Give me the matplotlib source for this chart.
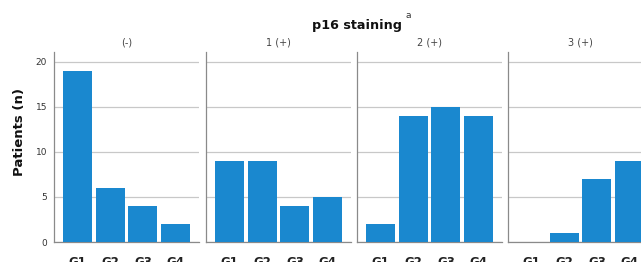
import matplotlib.pyplot as plt
import numpy as np

# data
grades = ['G1', 'G2', 'G3', 'G4']
panels = ['(-)', '1 (+)', '2 (+)', '3 (+)']
neg = [19, 6, 4, 2]
plus1 = [9, 9, 4, 5]
plus2 = [2, 14, 15, 14]
plus3 = [0, 1, 7, 9]
counts = [neg, plus1, plus2, plus3]
yticks = [0, 5, 10, 15, 20]

W, H = 641, 262
fig = plt.figure(figsize=(W/100, H/100), dpi=100)

lefts = [54, 206, 357, 508]
pw = 145
x = np.arange(len(grades))
for i in range(4):
    ax = fig.add_axes([lefts[i]/W, 20/H, pw/W, 190/H])
    ax.bar(x, counts[i], width=0.88, color='#1a88cf', zorder=3)
    ax.set_xlim(-0.715, 3.715)
    ax.set_ylim(0, 21.1)
    ax.set_yticks(yticks)
    ax.yaxis.grid(True, color='#c8c8c8', lw=0.9, zorder=0)
    for s in ['top', 'right']:
        ax.spines[s].set_visible(False)
    for s in ['left', 'bottom']:
        ax.spines[s].set_color('#8a8a8a')
        ax.spines[s].set_linewidth(0.9)
    ax.set_xticks(x)
    ax.set_xticklabels(grades, fontsize=8.5, fontweight='bold', color='#222222')
    ax.tick_params(axis='x', length=0, pad=10)
    ax.tick_params(axis='y', length=0, pad=5, labelsize=6.5, labelcolor='#333333')
    if i > 0:
        ax.set_yticklabels([])
    ax.set_title(panels[i], fontsize=7, color='#444444', pad=5)

fig.text(20/W, 1 - 132/H, 'Patients (n)', rotation=90, fontsize=9.5,
         fontweight='bold', ha='center', va='center', color='#111111')
fig.text(357/W, 1 - 25/H, 'p16 staining', fontsize=9.2, fontweight='bold',
         ha='center', va='center', color='#111111')
fig.text(405/W, 1 - 15/H, 'a', fontsize=6.5, ha='left', va='center', color='#333333')

fig.savefig('out.png', dpi=100)
